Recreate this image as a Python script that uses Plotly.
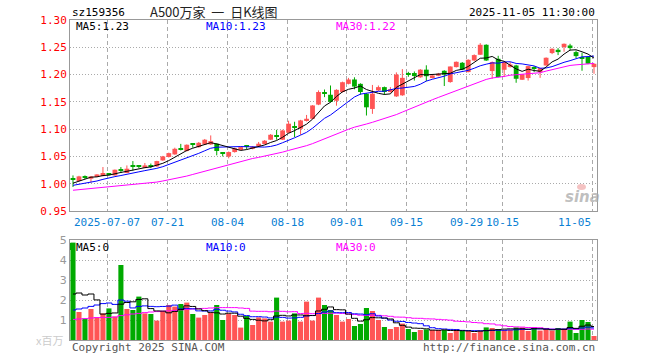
import pandas as pd
import plotly.graph_objects as go

# ---------------- data ----------------
opens = [1.0104, 1.005, 1.0125, 1.0092, 1.0134, 1.014, 1.0178, 1.0152, 1.025, 1.0196,
         1.0322, 1.032, 1.029, 1.032, 1.0317, 1.0427, 1.049, 1.0537, 1.064, 1.06,
         1.0733, 1.067, 1.072, 1.072, 1.0733, 1.056, 1.05, 1.058, 1.062, 1.069,
         1.064, 1.069, 1.0727, 1.0806, 1.0875, 1.0806, 1.0934, 1.104, 1.1007, 1.115,
         1.119, 1.145, 1.167, 1.163, 1.152, 1.168, 1.183, 1.191, 1.183, 1.165,
         1.137, 1.171, 1.177, 1.168, 1.16, 1.162, 1.201, 1.2028, 1.195, 1.209,
         1.1936, 1.1978, 1.207, 1.1863, 1.2137, 1.2216, 1.2046, 1.2258, 1.2363, 1.2546,
         1.2064, 1.229, 1.2088, 1.2137, 1.2167, 1.1905, 1.1936, 1.2137, 1.2046, 1.2167,
         1.2394, 1.2454, 1.2503, 1.2533, 1.2412, 1.232, 1.2325, 1.2137]
highs = [1.0152, 1.0145, 1.0152, 1.014, 1.0175, 1.0306, 1.0195, 1.026, 1.0305, 1.0335,
         1.0415, 1.034, 1.038, 1.037, 1.042, 1.051, 1.057, 1.066, 1.073, 1.072,
         1.074, 1.0765, 1.082, 1.0885, 1.074, 1.058, 1.059, 1.066, 1.068, 1.071,
         1.069, 1.0765, 1.08, 1.091, 1.0988, 1.099, 1.1154, 1.1135, 1.117, 1.126,
         1.144, 1.171, 1.1726, 1.18, 1.173, 1.187, 1.194, 1.195, 1.184, 1.166,
         1.181, 1.18, 1.178, 1.177, 1.204, 1.21, 1.205, 1.2057, 1.21, 1.217,
         1.199, 1.203, 1.208, 1.215, 1.224, 1.223, 1.228, 1.237, 1.2576, 1.2555,
         1.224, 1.2344, 1.224, 1.223, 1.218, 1.201, 1.216, 1.2155, 1.2125, 1.2315,
         1.248, 1.2485, 1.257, 1.2564, 1.244, 1.24, 1.233, 1.2205]
lows = [0.994, 1.004, 1.0085, 1.002, 1.0125, 1.0135, 1.0155, 1.015, 1.0195, 1.0195,
        1.024, 1.0285, 1.0285, 1.0285, 1.031, 1.042, 1.048, 1.053, 1.061, 1.059,
        1.066, 1.066, 1.071, 1.071, 1.052, 1.05, 1.0465, 1.057, 1.061, 1.063,
        1.063, 1.068, 1.072, 1.08, 1.0806, 1.08, 1.093, 1.0855, 1.0897, 1.114,
        1.118, 1.144, 1.1587, 1.149, 1.143, 1.167, 1.182, 1.173, 1.163, 1.125,
        1.128, 1.17, 1.163, 1.167, 1.159, 1.161, 1.196, 1.189, 1.194, 1.188,
        1.193, 1.197, 1.179, 1.185, 1.213, 1.208, 1.204, 1.225, 1.236, 1.225,
        1.1923, 1.195, 1.1954, 1.213, 1.185, 1.19, 1.189, 1.2045, 1.194, 1.216,
        1.2375, 1.2357, 1.2418, 1.2442, 1.23, 1.207, 1.219, 1.2015]
closes = [1.0073, 1.0134, 1.0115, 1.0134, 1.017, 1.0196, 1.017, 1.0256, 1.024, 1.0275,
          1.031, 1.031, 1.0335, 1.031, 1.0415, 1.05, 1.056, 1.064, 1.063, 1.0714,
          1.071, 1.075, 1.0806, 1.078, 1.06, 1.055, 1.058, 1.065, 1.067, 1.068,
          1.068, 1.0733, 1.0788, 1.0897, 1.086, 1.0976, 1.11, 1.103, 1.116, 1.119,
          1.1434, 1.168, 1.166, 1.15, 1.172, 1.186, 1.191, 1.178, 1.168, 1.14,
          1.165, 1.177, 1.168, 1.173, 1.2, 1.194, 1.2, 1.1973, 1.209, 1.197,
          1.1984, 1.2015, 1.2, 1.2148, 1.2234, 1.2088, 1.2271, 1.2357, 1.2546, 1.2258,
          1.2229, 1.1954, 1.2229, 1.2185, 1.1923, 1.2002, 1.2155, 1.2106, 1.2119, 1.2308,
          1.2473, 1.2412, 1.2564, 1.2485, 1.2338, 1.229, 1.22, 1.2198]
volumes = [4.87, 1.4, 1.07, 1.55, 1.13, 1.33, 1.58, 1.17, 3.75, 1.55,
           1.5, 2.17, 1.33, 1.3, 0.97, 1.45, 1.75, 1.67, 1.8, 1.87,
           1.3, 1.12, 1.25, 1.37, 1.75, 1.0, 1.33, 1.25, 0.62, 1.2,
           0.75, 1.13, 1.08, 0.92, 2.12, 0.92, 0.97, 1.33, 0.92, 1.92,
           0.97, 2.12, 1.75, 1.5, 1.25, 0.92, 1.05, 0.7, 0.8, 1.6,
           1.45, 1.0, 0.65, 0.55, 0.65, 0.82, 0.55, 0.4, 0.5, 0.53,
           0.5, 0.5, 0.5, 0.35, 0.53, 0.45, 0.45, 0.35, 0.45, 0.63,
           0.6, 0.55, 0.5, 0.5, 0.63, 0.63, 0.45, 0.62, 0.47, 0.55,
           0.47, 0.6, 0.57, 0.92, 0.35, 1.0, 0.9, 0.2]

# moving-average values at the left edge (history lies before the window)
ma5_head = [1.001, 1.005, 1.009, 1.012]
ma10_head = [0.997, 0.999, 1.0, 1.002, 1.005, 1.008, 1.011, 1.013, 1.015]
ma30_head = [0.988, 0.989, 0.990, 0.991, 0.992, 0.993, 0.994, 0.995, 0.996, 0.997,
             0.998, 0.999, 1.000, 1.001, 1.003, 1.005, 1.007, 1.009, 1.011, 1.014,
             1.017, 1.020, 1.023, 1.026, 1.029, 1.032, 1.035, 1.038, 1.041]
vma5_head = [2.3, 2.35, 2.25, 2.3]
vma10_head = [1.5, 1.55, 1.6, 1.68, 1.75, 1.82, 1.85, 1.78, 2.0]
vma30_head = [1.03, 1.05, 1.07, 1.1, 1.12, 1.13, 1.13, 1.15, 1.22, 1.26,
              1.3, 1.33, 1.37, 1.4, 1.42, 1.44, 1.46, 1.48, 1.51, 1.53,
              1.55, 1.57, 1.58, 1.6, 1.62, 1.62, 1.62, 1.62, 1.6]

tick_idx = [6, 16, 26, 36, 46, 56, 66, 72, 87]
tick_labels = ["2025-07-07", "07-21", "08-04", "08-18", "09-01", "09-15", "09-29", "10-15", "11-05"]
price_ticks = [0.95, 1.00, 1.05, 1.10, 1.15, 1.20, 1.25, 1.30]
vol_ticks = [1, 2, 3, 4, 5]

# ---------------- helpers ----------------
RED = "#ff5555"
GREEN = "#00aa00"
MONO = "DejaVu Sans Mono"


def moving_avg(values, n, head):
    s = pd.Series(values).rolling(n).mean().tolist()
    return head + s[n - 1:]


n = len(closes)
idx = list(range(n))
up = [c >= o for o, c in zip(opens, closes)]
colors = [RED if u else GREEN for u in up]
bases = [min(o, c) for o, c in zip(opens, closes)]
heights = [max(abs(c - o), 0.0019) for o, c in zip(opens, closes)]

L, R, T, B = 70, 63, 20, 20
W, H = 660, 360
PW, PH = W - L - R, H - T - B


def px(x):
    return (x - L) / PW


def py(y):
    return (H - B - y) / PH


fig = go.Figure()

# wicks
for flag, col in ((True, RED), (False, GREEN)):
    wx, wy = [], []
    for i in idx:
        if up[i] == flag:
            wx += [i, i, None]
            wy += [lows[i], highs[i], None]
    fig.add_trace(go.Scatter(x=wx, y=wy, mode="lines", line=dict(color=col, width=1),
                             xaxis="x", yaxis="y", hoverinfo="skip"))

# bodies
fig.add_trace(go.Bar(x=idx, y=heights, base=bases, width=0.8, marker=dict(color=colors, line=dict(width=0)),
                     xaxis="x", yaxis="y"))

# price moving averages
for vals, col in ((moving_avg(closes, 30, ma30_head), "#ff00ff"),
                  (moving_avg(closes, 10, ma10_head), "#0000ff"),
                  (moving_avg(closes, 5, ma5_head), "#000000")):
    fig.add_trace(go.Scatter(x=idx, y=vals, mode="lines", line=dict(color=col, width=1),
                             xaxis="x", yaxis="y"))

# volume bars
fig.add_trace(go.Bar(x=idx, y=volumes, width=0.85, marker=dict(color=colors, line=dict(width=0)),
                     xaxis="x2", yaxis="y2"))
for vals, col in ((moving_avg(volumes, 30, vma30_head), "#ff00ff"),
                  (moving_avg(volumes, 10, vma10_head), "#0000ff"),
                  (moving_avg(volumes, 5, vma5_head), "#000000")):
    fig.add_trace(go.Scatter(x=idx, y=vals, mode="lines", line=dict(color=col, width=1, shape="hvh"),
                             xaxis="x2", yaxis="y2"))

grid_x = [t - 0.25 for t in tick_idx]
xcommon = dict(range=[-0.5, n - 0.5], tickvals=grid_x, showticklabels=False, ticks="",
               showgrid=True, gridcolor="#aaaaaa", griddash="4px,3px", gridwidth=1,
               showline=True, linecolor="#999999", linewidth=1, mirror=True, zeroline=False)
price_bottom = py(211)
vol_top = py(240)

fig.update_layout(
    width=W, height=H, autosize=False,
    margin=dict(l=L, r=R, t=T, b=B),
    paper_bgcolor="white", plot_bgcolor="white",
    showlegend=False, barmode="overlay",
    xaxis=dict(domain=[0, 1], anchor="y", **xcommon),
    xaxis2=dict(domain=[0, 1], anchor="y2", matches="x", **xcommon),
    yaxis=dict(domain=[price_bottom, 1], range=[0.95, 1.30], tickvals=price_ticks,
               ticktext=["%.2f" % v for v in price_ticks],
               tickfont=dict(family=MONO, size=11, color="#ff0000"), ticks="",
               showgrid=True, gridcolor="#aaaaaa", griddash="1px,2px", gridwidth=1,
               showline=True, linecolor="#999999", linewidth=1, mirror=True, zeroline=False),
    yaxis2=dict(domain=[0, vol_top], range=[0, 5], tickvals=vol_ticks,
                ticktext=[str(v) for v in vol_ticks],
                tickfont=dict(family="DejaVu Sans", size=11, color="#999999"), ticks="",
                showgrid=True, gridcolor="#aaaaaa", griddash="1px,2px", gridwidth=1,
                showline=True, linecolor="#999999", linewidth=1, mirror=True, zeroline=False),
)

ann = []


def text(x, y, s, color="#000000", size=10, family=MONO, xanchor="left", xref="paper"):
    ann.append(dict(x=x, y=y, xref=xref, yref="paper", text=s, showarrow=False,
                    xanchor=xanchor, yanchor="middle",
                    font=dict(family=family, size=size, color=color)))


text(px(70), py(12), "sz159356", size=11)
text(px(214), py(11), "A500万家&nbsp;&nbsp;一&nbsp;&nbsp;日K线图", size=13, family="Noto Sans CJK SC",
     color="#222222", xanchor="center")
text(px(597), py(12), "2025-11-05 11:30:00", size=11, xanchor="right")
text(px(74), py(26), "MA5:1.23", size=11)
text(px(204), py(26), "MA10:1.23", color="#0000ff", size=11)
text(px(334), py(26), "MA30:1.22", color="#ff00ff", size=11)
for k, (t, lab) in enumerate(zip(grid_x, tick_labels)):
    last = k == len(tick_labels) - 1
    text(t, py(222), lab, color="#0a7fd4", size=11,
         xanchor="right" if last else "center", xref="x")
text(px(74), py(247), "MA5:0", size=11)
text(px(204), py(247), "MA10:0", color="#0000ff", size=11)
text(px(334), py(247), "MA30:0", color="#ff00ff", size=11)
text(px(65), py(340), "x百万", color="#cccccc", size=11, family="Noto Sans CJK SC", xanchor="right")
text(px(70), py(347), "Copyright 2025 SINA.COM", color="#555555", size=11)
text(px(597), py(347), "http://finance.sina.com.cn", color="#555555", size=11, xanchor="right")
text(px(582), py(197), "<b><i>sina</i></b>", color="rgba(170,170,170,0.75)", size=15,
     family="DejaVu Sans", xanchor="center")
fig.update_layout(annotations=ann)

fig.add_shape(type="rect", xref="paper", yref="paper", x0=px(70), x1=px(75), y0=py(250), y1=py(243),
              fillcolor=GREEN, line=dict(width=0))
fig.add_shape(type="circle", xref="paper", yref="paper", x0=px(577), x1=px(586), y0=py(190), y1=py(184),
              fillcolor="rgba(230,120,120,0.45)", line=dict(width=0))

fig.write_html("out.html", config={"displayModeBar": False},
               post_script="document.body.style.margin='0px';document.body.style.overflow='hidden';")
